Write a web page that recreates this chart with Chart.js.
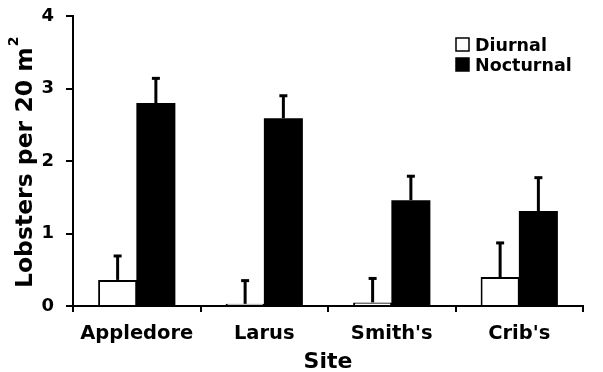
<!DOCTYPE html>
<html>
<head>
<meta charset="utf-8">
<script src="https://cdn.jsdelivr.net/npm/chart.js@4"></script>
<style>
  body { margin: 0; background: #fff; }
  #wrap { width: 603px; height: 372px; }
</style>
</head>
<body>
<div id="wrap"><canvas id="chart"></canvas></div>
<script>
// ===== DATA =====
const sites = ["Appledore", "Larus", "Smith's", "Crib's"];
const diurnal = [0.36, 0.03, 0.05, 0.40];
const nocturnal = [2.80, 2.59, 1.46, 1.31];
const diurnalErr = [0.33, 0.32, 0.33, 0.47];
const nocturnalErr = [0.34, 0.31, 0.33, 0.46];
const yTicks = [0, 1, 2, 3, 4];
const yTitle = "Lobsters per 20 m";
const yTitleSup = "2";

const FONT = "'DejaVu Sans', Verdana, sans-serif";

// ===== ERROR BARS (upper only) =====
const errorBars = {
  id: "errorBars",
  afterDatasetsDraw(chart) {
    const ctx = chart.ctx;
    const y = chart.scales.y;
    const errs = [diurnalErr, nocturnalErr];
    chart.data.datasets.forEach((ds, i) => {
      const meta = chart.getDatasetMeta(i);
      meta.data.forEach((bar, j) => {
        const top = y.getPixelForValue(ds.data[j] + errs[i][j]);
        ctx.save();
        ctx.strokeStyle = "#000";
        ctx.lineWidth = 3;
        ctx.beginPath();
        ctx.moveTo(bar.x, bar.y);
        ctx.lineTo(bar.x, top);
        ctx.stroke();
        ctx.beginPath();
        ctx.moveTo(bar.x - 4, top);
        ctx.lineTo(bar.x + 4, top);
        ctx.stroke();
        ctx.restore();
      });
    });
  }
};

// ===== Y TITLE with superscript =====
const yTitleDraw = {
  id: "yTitleDraw",
  afterDraw(chart) {
    const ctx = chart.ctx;
    ctx.save();
    ctx.translate(32, 288);
    ctx.rotate(-Math.PI / 2);
    ctx.fillStyle = "#000";
    ctx.textBaseline = "alphabetic";
    ctx.textAlign = "left";
    ctx.font = "bold 23.5px " + FONT;
    ctx.fillText(yTitle, 0, 0);
    const w = ctx.measureText(yTitle).width;
    ctx.font = "bold 14px " + FONT;
    ctx.fillText(yTitleSup, w + 1, -14);
    ctx.restore();
  }
};

// ===== LEGEND (inside plot, top right) =====
const boxLegend = {
  id: "boxLegend",
  afterDraw(chart) {
    const ctx = chart.ctx;
    const x = 456, y0 = 38, gap = 20;
    ctx.save();
    ctx.font = "bold 17.5px " + FONT;
    ctx.textBaseline = "middle";
    chart.data.datasets.forEach((ds, i) => {
      const y = y0 + i * gap;
      ctx.fillStyle = ds.backgroundColor;
      ctx.fillRect(x, y, 13, 13);
      ctx.strokeStyle = "#000";
      ctx.lineWidth = 1.5;
      ctx.strokeRect(x, y, 13, 13);
      ctx.fillStyle = "#000";
      ctx.fillText(ds.label, x + 19, y + 8);
    });
    ctx.restore();
  }
};

// ===== CHART =====
const ctx = document.getElementById("chart").getContext("2d");
new Chart(ctx, {
  type: "bar",
  data: {
    labels: sites,
    datasets: [
      {
        label: "Diurnal",
        data: diurnal,
        backgroundColor: "#ffffff",
        borderColor: "#000",
        borderWidth: 2,
        barPercentage: 1.02,
        categoryPercentage: 0.6
      },
      {
        label: "Nocturnal",
        data: nocturnal,
        backgroundColor: "#000000",
        borderWidth: 0,
        barPercentage: 1.02,
        categoryPercentage: 0.6
      }
    ]
  },
  options: {
    responsive: true,
    maintainAspectRatio: false,
    animation: false,
    layout: { padding: { top: 16, right: 20, bottom: 0, left: 0 } },
    plugins: {
      legend: { display: false },
      tooltip: { enabled: false }
    },
    scales: {
      x: {
        afterFit: axis => { axis.height = 66; },
        grid: {
          offset: true,
          drawOnChartArea: false,
          color: "#000",
          lineWidth: 2,
          tickLength: 6
        },
        border: { color: "#000", width: 2 },
        ticks: {
          color: "#000",
          font: { family: FONT, size: 19.5, weight: "bold" },
          padding: 10
        },
        title: {
          display: true,
          text: "Site",
          color: "#000",
          font: { family: FONT, size: 22, weight: "bold", lineHeight: 0.85 },
          padding: { top: 0, bottom: 0 }
        }
      },
      y: {
        min: 0,
        max: 4,
        afterFit: axis => {
          axis.width = 73;
          axis.paddingTop = 0;
          axis.paddingBottom = 0;
        },
        afterBuildTicks: axis => {
          axis.ticks = yTicks.map(v => ({ value: v }));
        },
        grid: {
          drawOnChartArea: false,
          color: "#000",
          lineWidth: 2,
          tickLength: 7
        },
        border: { color: "#000", width: 2 },
        ticks: {
          color: "#000",
          font: { family: FONT, size: 18, weight: "bold" },
          padding: 12
        }
      }
    }
  },
  plugins: [errorBars, yTitleDraw, boxLegend]
});
</script>
</body>
</html>
